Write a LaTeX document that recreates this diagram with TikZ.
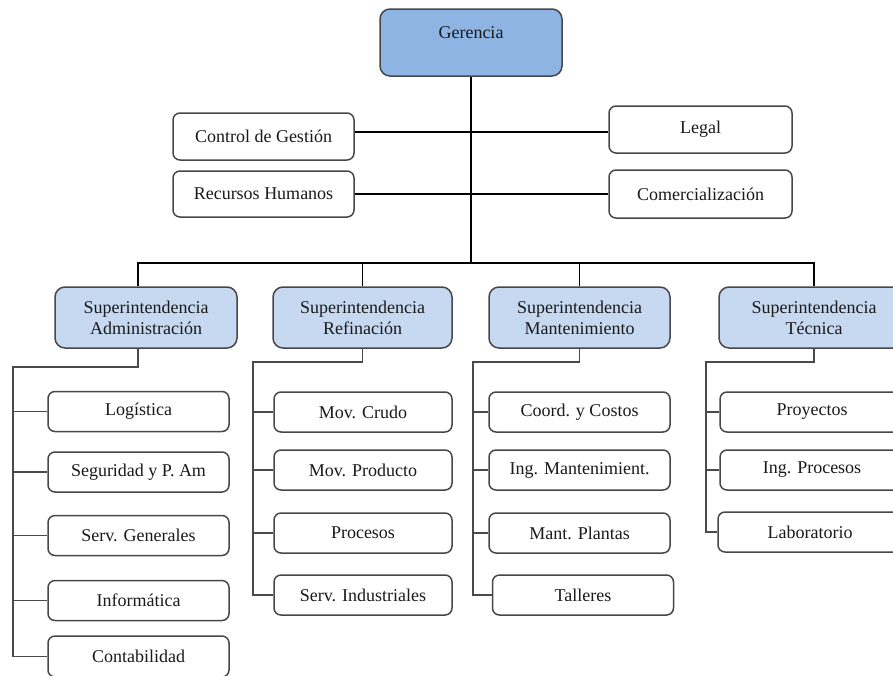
\documentclass[tikz,border=0pt]{standalone}
\usepackage{fontspec}
\setmainfont{LiberationSerif}[Extension=.ttf, UprightFont=*-Regular, BoldFont=*-Bold]
\definecolor{bordc}{HTML}{474747}
\definecolor{gerfill}{HTML}{8DB4E2}
\definecolor{supfill}{HTML}{C6D9F1}
\definecolor{linec}{HTML}{4A4A4A}
\definecolor{txtc}{HTML}{1A1A1A}
\begin{document}
\begin{tikzpicture}[x=1pt,y=1pt,
  box/.style={draw=bordc, line width=1.5pt, rounded corners=7pt, fill=white,
    inner sep=0pt, text=txtc, font=\fontsize{18}{21}\selectfont, align=center},
  gbox/.style={box, fill=gerfill, rounded corners=10pt},
  sbox/.style={box, fill=supfill, rounded corners=10pt, minimum height=61pt},
  cbox/.style={box, minimum height=40pt},
  topline/.style={draw=black, line width=1.2pt},
  childline/.style={draw=linec, line width=1.7pt}
]
\useasboundingbox (0,0) rectangle (893,-675);
\clip (0,0) rectangle (893,-675);
\fill[white] (0,0) rectangle (893,-675);

% top level
\node[gbox, minimum width=182pt, minimum height=67pt, text height=29pt, text depth=38pt] (ger) at (471,-42.5) {Gerencia};
\node[box, minimum width=181pt, minimum height=47pt] (cg) at (263.5,-136.5) {Control de Gestión};
\node[box, minimum width=181pt, minimum height=46pt] (rh) at (263.5,-194) {Recursos Humanos};
\node[box, minimum width=183pt, minimum height=47pt] (legal) at (700.5,-129.5) {Legal};
\node[box, minimum width=183pt, minimum height=48pt] (com) at (700.5,-194) {Comercialización};

% superintendencias
\node[sbox, minimum width=182pt] (adm) at (146,-317.5) {Superintendencia\\Administración};
\node[sbox, minimum width=179pt] (ref) at (362.5,-317.5) {Superintendencia\\Refinación};
\node[sbox, minimum width=181pt] (mant) at (579.5,-317.5) {Superintendencia\\Mantenimiento};
\node[sbox, minimum width=190pt] (tec) at (814,-317.5) {Superintendencia\\Técnica};

% administración
\node[cbox, minimum width=181pt] (log) at (138.5,-411.5) {Logística};
\node[cbox, minimum width=181pt] (seg) at (138.5,-472) {Seguridad y P. Am};
\node[cbox, minimum width=181pt] (serv) at (138.5,-535.5) {Serv. Generales};
\node[cbox, minimum width=181pt] (inf) at (138.5,-600.5) {Informática};
\node[cbox, minimum width=181pt, minimum height=41pt] (conta) at (138.5,-656.5) {Contabilidad};

% refinación
\node[cbox, minimum width=178pt] (mcru) at (363,-412) {Mov. Crudo};
\node[cbox, minimum width=178pt] (mpro) at (363,-470) {Mov. Producto};
\node[cbox, minimum width=178pt] (proc) at (363,-533) {Procesos};
\node[cbox, minimum width=178pt] (sind) at (363,-595) {Serv. Industriales};

% mantenimiento
\node[cbox, minimum width=181pt] (cyc) at (579.5,-412) {Coord. y Costos};
\node[cbox, minimum width=181pt] (ingm) at (579.5,-470) {Ing. Mantenimient.};
\node[cbox, minimum width=181pt] (mpl) at (579.5,-533) {Mant. Plantas};
\node[cbox, minimum width=181pt] (tall) at (583,-595) {Talleres};

% técnica
\node[cbox, minimum width=184pt] (proy) at (812,-412) {Proyectos};
\node[cbox, minimum width=184pt] (ingp) at (812,-470) {Ing. Procesos};
\node[cbox, minimum width=184pt] (lab) at (810,-532) {Laboratorio};

% coordinates
\coordinate (busM) at (471,-263);
\coordinate (busL) at (138,-263);
\coordinate (busR) at (814,-263);
\coordinate (aT) at (13,-367);
\coordinate (rT) at (253,-362);
\coordinate (mT) at (473,-362);
\coordinate (tT) at (706,-362);

% top connectors
\draw[topline] (ger.south) -- (busM);
\draw[topline] (cg.east |- 0,-132) -- (legal.west |- 0,-132);
\draw[topline] (rh.east) -- (com.west);
\draw[topline] (busL |- adm.north) -- (busL) -- (busR) -- (tec.north);
\draw[topline] (ref.north) -- (ref.north |- busL);
\draw[topline] (mant.north) -- (mant.north |- busL);

% child connectors
\draw[childline] (busL |- adm.south) |- (aT) -- (aT |- conta.west) -- (conta.west);
\foreach \n in {log,seg,serv,inf} \draw[childline] (aT |- \n.west) -- (\n.west);

\draw[childline] (ref.south) |- (rT) -- (rT |- sind.west) -- (sind.west);
\foreach \n in {mcru,mpro,proc} \draw[childline] (rT |- \n.west) -- (\n.west);

\draw[childline] (mant.south) |- (mT) -- (mT |- tall.west) -- (tall.west);
\foreach \n in {cyc,ingm,mpl} \draw[childline] (mT |- \n.west) -- (\n.west);

\draw[childline] (tec.south) |- (tT) -- (tT |- lab.west) -- (lab.west);
\foreach \n in {proy,ingp} \draw[childline] (tT |- \n.west) -- (\n.west);
\end{tikzpicture}
\end{document}
